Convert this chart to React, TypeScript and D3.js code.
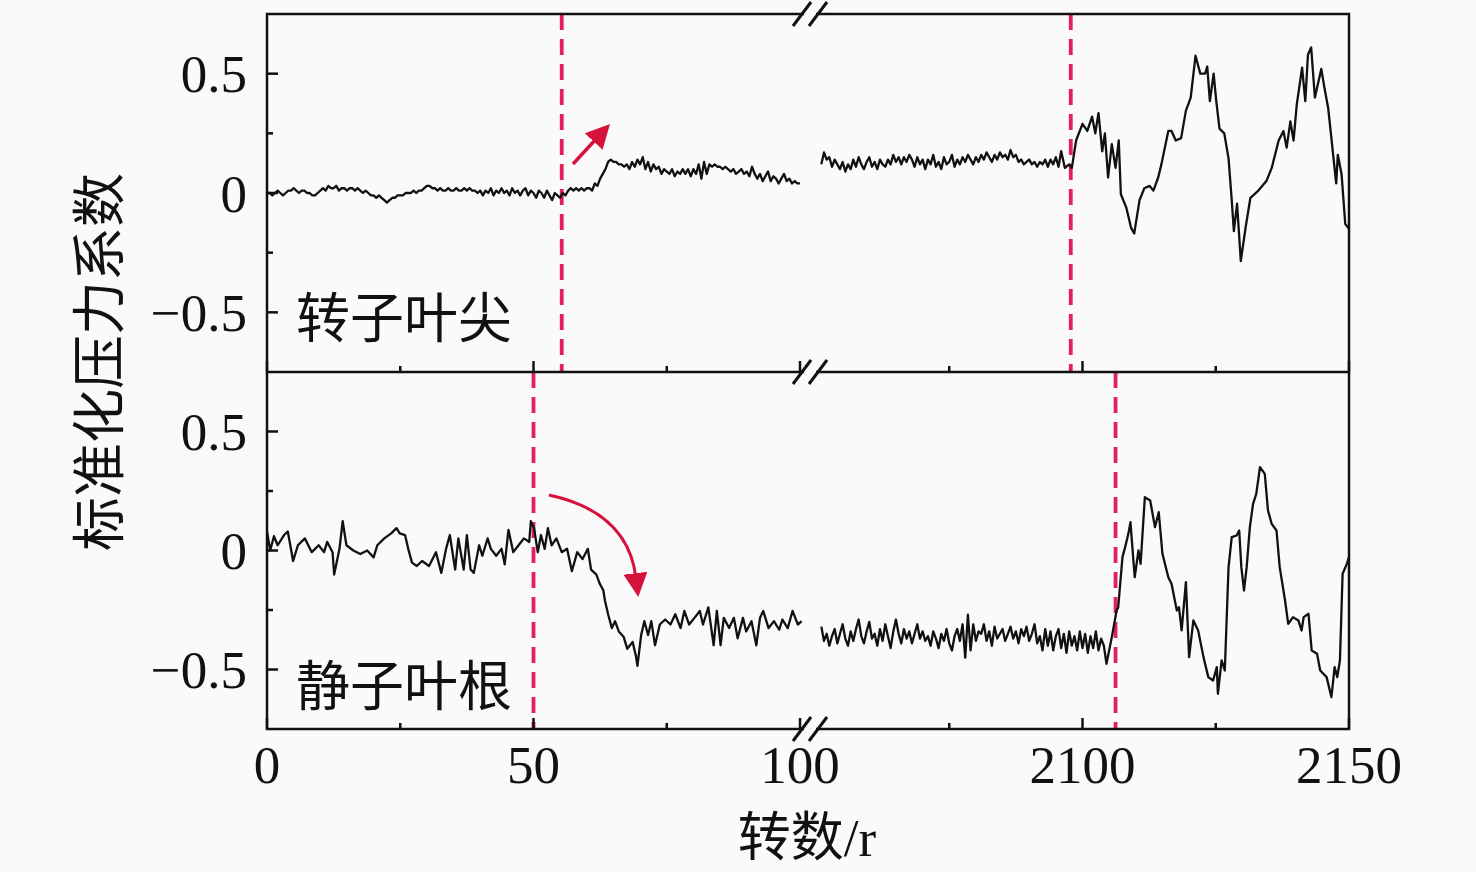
// @ts-nocheck
import React, { useEffect, useRef } from 'react';
import * as d3 from 'd3';

const width = 1476, height = 872;

// broken x axis: two pieces
const leftDomain = [0, 100];
const rightDomain = [2050, 2150];
const xMajorLeft = [0, 50, 100];
const xMinorLeft = [25, 75];
const xMajorRight = [2100, 2150];
const xMinorRight = [2075, 2125];
const yDomain = [-0.75, 0.75];
const yMajor = [-0.5, 0, 0.5];
const yMinor = [-0.25, 0.25];

const panelNames = ['转子叶尖', '静子叶根'];
const xTitle = '转数/r';
const yTitle = '标准化压力系数';

// red dashed markers
const rotorMarks = [55.3, 2097.8];
const statorMarks = [50, 2106.2];

const step = 0.5;

// rotor tip, 0 - 100 r
const rotorLeftStart = 0;
const rotorLeft = [
  0.00, 0.00, -0.01, 0.00, 0.01, 0.00, -0.01, 0.00, 0.01, 0.01,
  0.02, 0.01, 0.00, 0.01, 0.01, 0.00, 0.00, -0.01, -0.01, 0.00,
  0.01, 0.02, 0.01, 0.03, 0.02, 0.02, 0.03, 0.01, 0.02, 0.02,
  0.01, 0.02, 0.02, 0.01, 0.02, 0.01, 0.00, 0.01, 0.00, -0.01,
  -0.01, -0.02, -0.01, -0.02, -0.03, -0.04, -0.03, -0.02, -0.02, -0.01,
  -0.01, -0.01, 0.00, 0.00, 0.00, 0.01, 0.00, 0.01, 0.01, 0.02,
  0.03, 0.03, 0.02, 0.02, 0.01, 0.02, 0.01, 0.01, 0.02, 0.01,
  0.01, 0.02, 0.01, 0.01, 0.02, 0.01, 0.02, 0.01, 0.01, 0.00,
  0.01, -0.01, 0.01, 0.00, 0.02, -0.01, 0.01, 0.00, 0.02, 0.00,
  0.01, -0.01, 0.02, 0.00, 0.01, -0.01, 0.01, 0.02, -0.01, 0.01,
  0.00, -0.02, 0.01, 0.00, -0.02, 0.01, -0.01, -0.03, 0.00, -0.01,
  -0.02, 0.00, -0.01, 0.01, 0.02, 0.01, 0.02, 0.01, 0.02, 0.01,
  0.02, 0.02, 0.01, 0.04, 0.03, 0.06, 0.08, 0.10, 0.13, 0.14,
  0.13, 0.13, 0.12, 0.12, 0.11, 0.12, 0.10, 0.13, 0.11, 0.14,
  0.12, 0.15, 0.10, 0.13, 0.09, 0.12, 0.10, 0.11, 0.08, 0.10,
  0.09, 0.08, 0.10, 0.07, 0.09, 0.08, 0.10, 0.08, 0.10, 0.07,
  0.10, 0.08, 0.12, 0.06, 0.13, 0.08, 0.12, 0.11, 0.12, 0.11,
  0.11, 0.10, 0.11, 0.10, 0.09, 0.10, 0.08, 0.09, 0.10, 0.08,
  0.09, 0.07, 0.11, 0.08, 0.06, 0.08, 0.05, 0.07, 0.09, 0.05,
  0.07, 0.06, 0.04, 0.06, 0.08, 0.05, 0.06, 0.04, 0.05, 0.04,
  0.04,
];

// rotor tip, 2051 - 2095.5 r
const rotorFlatStart = 2051;
const rotorFlat = [
  0.12, 0.17, 0.14, 0.15, 0.11, 0.14, 0.12, 0.10, 0.13, 0.09,
  0.12, 0.10, 0.14, 0.11, 0.15, 0.12, 0.10, 0.13, 0.15, 0.11,
  0.13, 0.10, 0.14, 0.12, 0.11, 0.14, 0.12, 0.16, 0.13, 0.15,
  0.12, 0.15, 0.13, 0.16, 0.14, 0.11, 0.15, 0.12, 0.14, 0.10,
  0.14, 0.12, 0.16, 0.11, 0.13, 0.10, 0.15, 0.12, 0.13, 0.16,
  0.11, 0.14, 0.12, 0.15, 0.13, 0.16, 0.14, 0.12, 0.15, 0.13,
  0.16, 0.14, 0.17, 0.15, 0.13, 0.16, 0.14, 0.17, 0.15, 0.16,
  0.14, 0.18, 0.15, 0.16, 0.13, 0.14, 0.12, 0.13, 0.14, 0.12,
  0.13, 0.11, 0.13, 0.12, 0.14, 0.11, 0.14, 0.12, 0.15, 0.11,
];

// rotor tip, stall onset
const rotorSurge = [
  [2096, 0.175], [2096.7, 0.105], [2097.5, 0.12], [2098, 0.105], [2098.8, 0.22],
  [2100, 0.29], [2100.9, 0.26], [2101.8, 0.32], [2102.4, 0.25], [2103, 0.335],
  [2103.7, 0.175], [2104.2, 0.25], [2104.8, 0.065], [2105.5, 0.205], [2106.2, 0.105],
  [2106.8, 0.22], [2107.2, -0.005], [2108.2, -0.06], [2109.1, -0.145], [2109.7, -0.17],
  [2110.7, -0.03], [2111.6, 0.02], [2112.6, 0.03], [2113.3, 0.01], [2114.2, 0.065],
  [2114.8, 0.12], [2116.1, 0.26], [2116.7, 0.26], [2117.5, 0.22], [2118.5, 0.23],
  [2119.4, 0.345], [2120.3, 0.40], [2121.2, 0.575], [2122.1, 0.50], [2123, 0.50],
  [2123.4, 0.53], [2123.9, 0.385], [2124.6, 0.50], [2125.1, 0.385], [2125.7, 0.27],
  [2126.6, 0.25], [2127.4, 0.145], [2128, -0.03], [2128.4, -0.16], [2129, -0.045],
  [2129.7, -0.285], [2130.6, -0.145], [2131.5, -0.02], [2133, 0.01], [2134.5, 0.05],
  [2135.5, 0.105], [2136.8, 0.22], [2137.7, 0.26], [2138.3, 0.19], [2139, 0.30],
  [2139.6, 0.22], [2140.2, 0.37], [2141.2, 0.525], [2141.8, 0.385], [2142.3, 0.58],
  [2142.9, 0.61], [2143.6, 0.40], [2144.8, 0.52], [2145.4, 0.44], [2146.1, 0.355],
  [2147.6, 0.04], [2147.9, 0.16], [2148.6, 0.08], [2149.3, -0.13], [2150, -0.15],
];

// stator root, 0 - 100 r
const statorLeft = [
  [0, 0.08], [0.6, 0.0], [1.3, 0.06], [2, 0.022], [3.2, 0.065], [3.9, 0.08],
  [4.9, -0.044], [5.8, 0.022], [7.1, 0.051], [8.4, -0.007], [9.7, 0.022], [10.7, -0.007],
  [11.3, 0.036], [12.3, -0.007], [12.6, -0.101], [13.6, 0.007], [14.2, 0.123], [14.9, 0.022],
  [16.2, 0.0], [17.5, -0.015], [18.8, 0.0], [20, -0.029], [20.7, 0.022], [22, 0.051],
  [23.3, 0.072], [24.3, 0.094], [24.9, 0.072], [25.9, 0.065], [26.5, 0.007], [27.2, -0.051],
  [28.1, -0.065], [29.1, -0.044], [30.4, -0.065], [31.7, -0.007], [32.7, -0.094], [33.6, 0.007],
  [34.3, 0.065], [35.3, -0.08], [35.9, 0.051], [36.9, -0.08], [37.5, 0.065], [38.2, -0.08],
  [38.8, -0.094], [39.8, 0.022], [40.4, -0.022], [41.4, 0.051], [42, 0.007], [43, -0.022],
  [44, 0.007], [44.6, -0.058], [45.3, 0.087], [46.2, -0.007], [47.2, 0.022], [48.2, 0.051],
  [49.2, 0.036], [49.5, 0.123], [50.1, 0.094], [50.8, -0.007], [51.4, 0.065], [52.1, 0.007],
  [52.7, 0.094], [53.4, 0.022], [54.3, 0.051], [55.3, -0.007], [56.3, 0.007], [57.2, -0.087],
  [58.2, -0.007], [59.2, -0.036], [60.2, 0.007], [60.8, -0.08], [61.8, -0.101], [62.4, -0.138],
  [63.1, -0.167], [63.4, -0.21], [64, -0.268], [64.7, -0.326], [65.3, -0.297], [66, -0.34],
  [66.9, -0.362], [67.6, -0.413], [68.6, -0.384], [69.2, -0.442], [69.5, -0.485], [70.2, -0.355],
  [70.8, -0.297], [71.5, -0.355], [72.1, -0.297], [72.8, -0.398], [73.7, -0.311], [74.7, -0.29],
  [75.7, -0.311], [76.6, -0.268], [77.6, -0.326], [78.3, -0.254], [79.2, -0.311], [80.2, -0.283],
  [81.2, -0.254], [81.8, -0.311], [82.8, -0.239], [83.8, -0.398], [84.4, -0.254], [85.1, -0.398],
  [85.7, -0.283], [86.7, -0.326], [87.6, -0.283], [88.3, -0.369], [89.3, -0.283], [89.9, -0.34],
  [90.9, -0.297], [91.8, -0.398], [92.5, -0.283], [93.1, -0.254], [94.1, -0.326], [95.1, -0.297],
  [96.1, -0.333], [96.7, -0.29], [97.7, -0.326], [98.6, -0.254], [99.6, -0.311], [100.3, -0.297],
];

// stator root, 2051 - 2104 r
const statorFlatStart = 2051;
const statorFlat = [
  -0.32, -0.38, -0.35, -0.40, -0.36, -0.33, -0.39, -0.35, -0.31, -0.37,
  -0.40, -0.34, -0.38, -0.33, -0.29, -0.36, -0.39, -0.34, -0.30, -0.37,
  -0.35, -0.40, -0.33, -0.38, -0.31, -0.36, -0.41, -0.34, -0.29, -0.35,
  -0.39, -0.33, -0.37, -0.34, -0.39, -0.35, -0.31, -0.37, -0.34, -0.38,
  -0.36, -0.40, -0.34, -0.37, -0.41, -0.35, -0.38, -0.33, -0.39, -0.42,
  -0.36, -0.33, -0.38, -0.31, -0.45, -0.27, -0.42, -0.31, -0.38, -0.34,
  -0.35, -0.31, -0.38, -0.34, -0.40, -0.32, -0.37, -0.35, -0.33, -0.38,
  -0.35, -0.32, -0.37, -0.34, -0.39, -0.33, -0.36, -0.32, -0.38, -0.35,
  -0.31, -0.39, -0.36, -0.42, -0.33, -0.40, -0.34, -0.42, -0.36, -0.33,
  -0.41, -0.35, -0.43, -0.34, -0.40, -0.36, -0.42, -0.34, -0.41, -0.35,
  -0.43, -0.36, -0.41, -0.34, -0.42, -0.37, -0.40,
];

// stator root, stall onset
const statorSurge = [
  [2104.5, -0.476], [2105.5, -0.364], [2106.4, -0.252], [2106.7, -0.238], [2107.5, -0.028],
  [2108, 0.014], [2108.6, 0.07], [2109, 0.119], [2109.5, -0.028], [2109.8, -0.112],
  [2110.5, 0.0], [2110.9, -0.056], [2111.7, 0.224], [2112.7, 0.21], [2113.6, 0.098],
  [2114.3, 0.161], [2115, -0.014], [2116.1, -0.112], [2116.7, -0.14], [2117.7, -0.252],
  [2118.1, -0.238], [2118.6, -0.336], [2119.4, -0.133], [2120, -0.448], [2120.8, -0.294],
  [2121.7, -0.336], [2122.7, -0.448], [2123.6, -0.532], [2124.5, -0.546], [2125.2, -0.49],
  [2125.4, -0.602], [2126.1, -0.462], [2126.7, -0.504], [2127.4, -0.07], [2128, 0.056],
  [2128.9, 0.063], [2129.4, 0.084], [2129.8, -0.07], [2130.3, -0.168], [2130.8, -0.07],
  [2131.4, 0.098], [2132, 0.196], [2132.6, 0.238], [2133.3, 0.35], [2134.2, 0.322],
  [2134.8, 0.168], [2135.5, 0.112], [2136.4, 0.084], [2137, -0.07], [2138, -0.21],
  [2138.6, -0.308], [2139.5, -0.28], [2140.5, -0.294], [2141.1, -0.336], [2141.5, -0.28],
  [2142.4, -0.266], [2143, -0.42], [2144, -0.434], [2144.6, -0.504], [2145.8, -0.532],
  [2146.7, -0.616], [2147.3, -0.49], [2147.8, -0.532], [2148.3, -0.462], [2148.8, -0.098],
  [2149.6, -0.056], [2150, -0.028],
];

const serif = "'Liberation Serif', 'Noto Sans CJK SC', serif";
const ink = '#111';
const markRed = '#e41f5a';
const arrowRed = '#d6123c';

const toPairs = (start, vals) => vals.map((v, i) => [start + i * step, v]);

export default function App() {
  const ref = useRef(null);

  useEffect(() => {
    const svg = d3.select(ref.current);
    svg.selectAll('*').remove();

    const plotL = 267, plotR = 1349, plotT = 14, plotM = 372, plotB = 729;
    const breakX = 810;

    const xL = d3.scaleLinear().domain(leftDomain).range([plotL, 800]);
    const xR = d3.scaleLinear().domain(rightDomain).range([816, plotR]);
    const x = (v) => (v < 1000 ? xL(v) : xR(v));

    const panels = [
      {
        top: plotT, bottom: plotM, name: panelNames[0], marks: rotorMarks,
        segments: [toPairs(rotorLeftStart, rotorLeft), toPairs(rotorFlatStart, rotorFlat).concat(rotorSurge)],
      },
      {
        top: plotM, bottom: plotB, name: panelNames[1], marks: statorMarks,
        segments: [statorLeft, toPairs(statorFlatStart, statorFlat).concat(statorSurge)],
      },
    ];

    svg.append('rect').attr('width', width).attr('height', height).attr('fill', '#fafafa');

    const defs = svg.append('defs');
    defs.append('clipPath').attr('id', 'plotclip')
      .append('rect').attr('x', plotL).attr('y', plotT).attr('width', plotR - plotL).attr('height', plotB - plotT);
    defs.append('marker')
      .attr('id', 'head')
      .attr('viewBox', '0 0 10 10')
      .attr('refX', 2).attr('refY', 5)
      .attr('markerUnits', 'userSpaceOnUse')
      .attr('markerWidth', 24).attr('markerHeight', 24)
      .attr('orient', 'auto')
      .append('path').attr('d', 'M0,0 L10,5 L0,10 Z').attr('fill', arrowRed);

    panels.forEach((p, pi) => {
      const y = d3.scaleLinear().domain(yDomain).range([p.bottom, p.top]);

      /* dashed markers */
      svg.append('g').selectAll('line').data(p.marks).join('line')
        .attr('x1', d => x(d)).attr('x2', d => x(d))
        .attr('y1', p.top).attr('y2', p.bottom)
        .attr('stroke', markRed).attr('stroke-width', 3.8)
        .attr('stroke-dasharray', '16 9');

      /* signal */
      const line = d3.line().x(d => x(d[0])).y(d => y(d[1]));
      svg.append('g').attr('clip-path', 'url(#plotclip)')
        .selectAll('path').data(p.segments).join('path')
        .attr('d', line)
        .attr('fill', 'none').attr('stroke', ink).attr('stroke-width', 2.3)
        .attr('stroke-linejoin', 'round');

      /* ticks, pointing inward */
      const g = svg.append('g').attr('stroke', ink).attr('stroke-width', 2.5);
      yMajor.forEach(t => g.append('line').attr('x1', plotL).attr('x2', plotL + 11).attr('y1', y(t)).attr('y2', y(t)));
      yMinor.forEach(t => g.append('line').attr('x1', plotL).attr('x2', plotL + 6).attr('y1', y(t)).attr('y2', y(t)));
      xMajorLeft.concat(xMajorRight).forEach(t => g.append('line').attr('x1', x(t)).attr('x2', x(t)).attr('y1', p.bottom).attr('y2', p.bottom - 11));
      xMinorLeft.concat(xMinorRight).forEach(t => g.append('line').attr('x1', x(t)).attr('x2', x(t)).attr('y1', p.bottom).attr('y2', p.bottom - 6));

      svg.append('g').selectAll('text').data(yMajor).join('text')
        .attr('x', 247).attr('y', d => y(d)).attr('dy', '0.35em')
        .attr('text-anchor', 'end')
        .style('font', `53px ${serif}`).attr('fill', ink)
        .text(d => (d === 0 ? '0' : (d < 0 ? '\u2212' : '') + Math.abs(d)));

      svg.append('text')
        .attr('x', 296).attr('y', pi === 0 ? 338 : 706)
        .style('font', `54px ${serif}`).attr('fill', ink)
        .text(p.name);
    });

    /* frame */
    svg.append('rect')
      .attr('x', plotL).attr('y', plotT).attr('width', plotR - plotL).attr('height', plotB - plotT)
      .attr('fill', 'none').attr('stroke', ink).attr('stroke-width', 2.5);
    svg.append('line').attr('x1', plotL).attr('x2', plotR).attr('y1', plotM).attr('y2', plotM)
      .attr('stroke', ink).attr('stroke-width', 2.5);

    /* axis breaks */
    [plotT, plotM, plotB].forEach(by => {
      svg.append('rect').attr('x', breakX - 6).attr('y', by - 3).attr('width', 12).attr('height', 6).attr('fill', '#fafafa');
      [-8, 8].forEach(dx => {
        svg.append('line')
          .attr('x1', breakX + dx - 9).attr('y1', by + 12)
          .attr('x2', breakX + dx + 9).attr('y2', by - 12)
          .attr('stroke', ink).attr('stroke-width', 3);
      });
    });

    /* x tick labels */
    svg.append('g').selectAll('text').data(xMajorLeft.concat(xMajorRight)).join('text')
      .attr('x', d => x(d)).attr('y', 783)
      .attr('text-anchor', 'middle')
      .style('font', `53px ${serif}`).attr('fill', ink)
      .text(d => d);

    /* titles */
    svg.append('text')
      .attr('x', 807).attr('y', 856).attr('text-anchor', 'middle')
      .style('font', `53px ${serif}`).attr('fill', ink)
      .text(xTitle);
    svg.append('text')
      .attr('transform', 'translate(119,362) rotate(-90)')
      .attr('text-anchor', 'middle')
      .style('font', `54px ${serif}`).attr('fill', ink)
      .text(yTitle);

    /* arrows */
    svg.append('line')
      .attr('x1', 573).attr('y1', 164).attr('x2', 597).attr('y2', 138)
      .attr('stroke', arrowRed).attr('stroke-width', 3.5)
      .attr('marker-end', 'url(#head)');
    svg.append('path')
      .attr('d', 'M549,495 Q628,512 636,578')
      .attr('fill', 'none')
      .attr('stroke', arrowRed).attr('stroke-width', 3)
      .attr('marker-end', 'url(#head)');
  }, []);

  return (
    <div style={{ position: 'absolute', left: 0, top: 0 }}>
      <svg ref={ref} width={width} height={height} style={{ display: 'block' }} />
    </div>
  );
}
